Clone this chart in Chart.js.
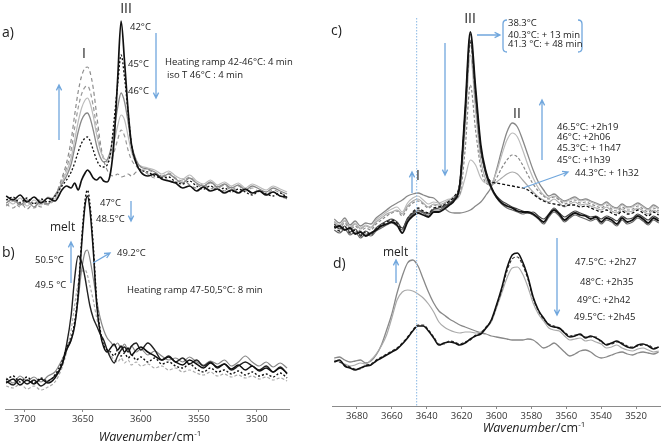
<!DOCTYPE html>
<html><head><meta charset="utf-8">
<script src="https://cdn.jsdelivr.net/npm/chart.js@4.4.1/dist/chart.umd.min.js"></script>
<style>
html,body{margin:0;padding:0;background:#fff;}
#wrap{position:relative;width:661px;height:445px;overflow:hidden;font-family:'Open Sans',sans-serif;color:#222;}
canvas{position:absolute;}
.t{position:absolute;white-space:nowrap;font-size:9.5px;line-height:1;transform:translateY(-50%);}
.c{transform:translate(-50%,-50%);}
.big{font-size:14px;}
.mid{font-size:12px;}
.ax{font-size:12.5px;}
.ax i{font-style:italic;}
.ax sup{font-size:8px;vertical-align:5px;line-height:0;}
#ann{position:absolute;left:0;top:0;}
</style></head><body>
<div id="wrap">
<canvas id="ca" width="285" height="200" style="left:5px;top:15px"></canvas>
<canvas id="cb" width="285" height="250" style="left:5px;top:180px"></canvas>
<canvas id="cc" width="329" height="235" style="left:332px;top:15px"></canvas>
<canvas id="cd" width="329" height="182" style="left:332px;top:245px"></canvas>
<svg id="ann" width="661" height="445"></svg>

<div class="t big" style="left:2px;top:32px">a)</div>
<div class="t big c" style="left:126px;top:8px">III</div>
<div class="t big c" style="left:84px;top:53px">I</div>
<div class="t" style="left:130px;top:27px">42°C</div>
<div class="t" style="left:128px;top:64px">45°C</div>
<div class="t" style="left:128px;top:91px">46°C</div>
<div class="t" style="left:165px;top:62px">Heating ramp 42-46°C: 4 min</div>
<div class="t" style="left:167px;top:75px">iso T 46°C : 4 min</div>
<div class="t" style="left:100px;top:203px">47°C</div>
<div class="t" style="left:96px;top:219px">48.5°C</div>
<div class="t mid" style="left:50px;top:227px">melt</div>
<div class="t big" style="left:2px;top:252px">b)</div>
<div class="t" style="left:35px;top:260px">50.5°C</div>
<div class="t" style="left:35px;top:285px">49.5 °C</div>
<div class="t" style="left:117px;top:253px">49.2°C</div>
<div class="t" style="left:127px;top:290px">Heating ramp 47-50,5°C: 8 min</div>
<div class="t ax c" style="left:150px;top:437px"><i>Wavenumber</i>/cm<sup>-1</sup></div>

<div class="t big" style="left:331px;top:30px">c)</div>
<div class="t big c" style="left:470px;top:18px">III</div>
<div class="t" style="left:508px;top:23px">38.3°C</div>
<div class="t" style="left:508px;top:35px">40.3°C: + 13 min</div>
<div class="t" style="left:508px;top:44px">41.3 °C: + 48 min</div>
<div class="t big c" style="left:418px;top:175px">I</div>
<div class="t big c" style="left:517px;top:113px">II</div>
<div class="t" style="left:557px;top:127px">46.5°C: +2h19</div>
<div class="t" style="left:557px;top:137px">46°C: +2h06</div>
<div class="t" style="left:557px;top:148px">45.3°C: + 1h47</div>
<div class="t" style="left:557px;top:160px">45°C: +1h39</div>
<div class="t" style="left:575px;top:173px">44.3°C: + 1h32</div>
<div class="t mid" style="left:383px;top:252px">melt</div>
<div class="t big" style="left:333px;top:263px">d)</div>
<div class="t" style="left:575px;top:262px">47.5°C: +2h27</div>
<div class="t" style="left:580px;top:282px">48°C: +2h35</div>
<div class="t" style="left:577px;top:300px">49°C: +2h42</div>
<div class="t" style="left:574px;top:317px">49.5°C: +2h45</div>
<div class="t ax c" style="left:534px;top:428px"><i>Wavenumber</i>/cm<sup>-1</sup></div>
</div>
<script>
// ---------- DATA ----------
// Left column (panels a, b): wavenumbers (cm-1)
const wavenumbersLeft = [3716,3710,3704,3698,3692,3686,3680,3674,3668,3664,3660,3657,3654,3651,3648,3646,3644,3641,3638,3635,3632,3629,3626,3623,3620,3617,3614,3611,3608,3604,3600,3594,3588,3582,3576,3570,3564,3558,3552,3546,3540,3534,3528,3522,3516,3510,3504,3498,3492,3486,3480,3474];
// Panel a (absorbance, arbitrary units)
const a_42C   = [19,15,20,13,18,12,17,14,25,29,27,32,25,35,42,45,43,37,35,38,34,33,43,75,135,194,153,105,70,52,43,39,41,36,34,32,27,29,24,28,24,26,22,25,22,26,22,24,20,23,19,18];
const a_45C   = [15,18,12,17,11,16,13,19,29,35,43,52,63,72,77,78,75,65,55,49,48,50,63,95,130,160,137,103,70,52,45,43,39,37,38,33,31,34,29,26,29,25,27,23,26,23,20,24,21,19,22,17];
const a_46C   = [12,16,10,15,8,14,11,20,31,39,51,67,83,95,101,102,98,85,69,58,53,55,65,85,107,122,113,93,70,55,48,46,43,38,41,36,32,37,32,29,33,28,31,27,30,25,29,26,23,27,24,21];
const a_iso1  = [16,11,17,9,15,10,18,16,33,43,57,75,93,107,115,117,113,99,80,65,57,55,60,73,89,100,95,79,63,52,49,47,45,41,44,39,36,40,34,31,35,30,33,29,32,27,31,28,25,29,26,23];
const a_iso2  = [9,14,8,13,7,12,10,17,35,47,65,87,107,121,128,129,125,109,87,68,57,53,55,63,75,85,79,65,55,49,45,45,42,39,42,37,34,38,31,28,32,27,30,25,29,24,27,23,21,25,22,19];
const a_iso3  = [11,7,13,6,12,8,15,19,37,52,75,100,123,139,147,148,144,127,100,73,55,45,40,39,41,38,39,41,39,43,45,41,37,40,35,32,36,30,27,31,26,29,24,28,23,26,22,25,20,23,19,16];
// Panel b
const b_47C   = [29,33,27,32,26,31,28,34,47,61,71,87,117,169,209,219,207,164,109,79,64,59,57,53,59,53,56,51,54,49,52,47,51,45,47,43,41,45,40,37,41,37,39,35,38,34,37,33,35,32,36,31];
const b_48_5C = [26,30,24,29,25,30,26,31,44,59,69,83,113,164,204,213,201,159,104,76,62,57,61,65,59,63,57,61,54,59,62,57,53,49,52,47,44,49,45,41,46,42,45,40,44,39,43,38,41,37,41,36];
const b_49_2C = [31,26,33,28,32,27,33,37,49,59,69,84,109,139,157,159,151,131,109,91,79,71,67,63,66,61,65,59,63,57,60,54,58,53,49,51,47,52,47,44,48,45,49,43,47,53,47,43,47,42,46,41];
const b_49_5C = [23,21,25,20,23,19,22,27,41,57,79,104,126,137,139,134,124,109,91,77,67,59,54,49,47,51,46,49,44,47,43,45,41,43,39,41,37,39,36,34,37,33,35,32,34,31,33,30,32,29,31,28];
const b_50_5C = [28,24,30,25,29,23,28,33,44,64,94,131,153,147,131,117,104,91,83,75,69,59,51,46,53,59,62,57,63,66,59,66,59,49,53,47,51,45,49,43,47,41,45,39,43,47,43,39,43,37,42,35];

// Right column (panels c, d): wavenumbers (cm-1)
const wavenumbersRight = [3693,3690,3687,3684,3681,3678,3675,3672,3669,3666,3663,3660,3657,3654,3651,3648,3645,3642,3639,3636,3633,3630,3627,3624,3621,3618,3615,3612,3609,3606,3603,3600,3597,3594,3591,3588,3585,3582,3579,3576,3573,3570,3567,3564,3561,3558,3555,3552,3549,3546,3543,3540,3537,3534,3531,3528,3525,3522,3519,3516,3513,3510,3507];
// Panel c
const c_38_3C = [22,24,20,22,16,18,14,17,20,24,26,28,25,17,28,34,37,35,33,38,38,41,45,50,65,140,218,162,105,78,63,53,47,44,42,39,38,38,36,32,28,35,40,36,30,34,37,35,34,31,33,28,32,30,26,32,28,30,34,31,27,32,29];
const c_40_3C = [26,21,24,18,21,15,19,16,22,26,29,31,28,22,32,37,40,38,36,41,42,44,47,52,67,138,216,158,102,76,62,54,49,46,43,41,39,37,38,34,31,36,42,37,33,36,39,37,35,33,34,31,34,32,29,34,31,32,36,33,30,34,31];
const c_41_3C = [20,17,21,15,18,12,16,14,19,22,25,27,24,20,30,36,39,37,34,40,40,43,46,51,66,132,210,152,100,75,61,52,46,42,40,38,36,37,35,31,26,33,38,34,28,32,35,33,31,29,31,26,30,28,24,30,26,28,32,29,25,30,27];
const c_44_3C = [24,19,23,17,20,14,18,15,21,25,28,30,27,21,31,38,42,39,37,42,43,45,49,54,68,135,208,155,100,77,68,67,66,65,64,63,62,60,56,52,49,47,46,45,44,45,45,43,44,42,40,38,40,37,35,39,36,37,40,37,34,38,35];
const c_45C   = [28,24,29,22,26,21,24,22,28,32,36,38,40,36,44,49,51,47,43,46,45,47,50,54,60,120,195,140,90,70,65,68,72,76,78,76,70,64,58,53,50,48,51,47,43,46,48,45,46,44,42,40,43,39,37,41,38,39,42,39,36,40,37];
const c_45_3C = [26,22,27,20,24,19,22,20,26,30,34,37,39,34,42,47,49,46,42,45,44,46,49,52,56,100,165,120,82,67,65,72,82,90,95,93,85,75,66,59,54,51,53,50,46,48,50,47,48,46,44,42,45,41,39,43,40,41,44,41,38,42,39];
const c_46C   = [29,25,30,23,27,22,25,23,30,34,38,41,43,38,47,52,54,50,46,48,47,49,51,50,55,72,90,85,72,67,67,78,95,110,117,113,100,85,72,62,55,52,54,51,48,50,52,49,50,48,46,44,47,43,41,45,42,43,46,43,40,44,41];
const c_46_5C = [31,27,32,25,29,24,27,26,32,36,40,44,47,50,54,56,57,55,53,52,47,42,38,37,37,38,40,44,48,55,63,80,100,118,127,123,110,95,80,68,60,54,56,52,49,51,53,50,51,49,47,45,48,44,42,46,43,44,47,44,41,45,42];
// Panel d
const d_47_5C = [44,46,40,38,36,38,40,41,45,48,51,54,57,62,68,75,80,80,75,68,61,63,64,63,61,63,67,70,72,78,86,101,118,138,151,153,144,129,109,96,88,81,79,78,73,69,70,72,68,70,68,65,61,63,65,62,59,58,61,62,60,57,59];
const d_48C   = [45,44,41,39,37,37,41,42,46,49,52,55,58,63,69,76,81,81,76,69,62,62,65,64,62,64,66,71,73,79,85,100,116,135,147,149,141,127,108,95,87,82,80,77,74,70,71,71,69,69,69,64,62,62,64,63,60,59,60,61,61,58,58];
const d_49C   = [46,44,42,40,41,43,42,46,52,60,71,88,106,114,116,115,112,108,102,94,84,79,76,74,73,74,74,73,74,78,84,98,113,128,138,139,132,119,103,92,85,78,76,75,70,66,67,68,65,66,64,62,58,59,61,58,56,55,57,58,56,54,55];
const d_49_5C = [48,49,46,44,45,46,43,45,51,61,76,92,113,130,143,146,140,127,114,103,95,91,87,84,81,79,77,75,73,72,70,69,68,67,66,66,66,67,66,62,58,60,63,59,54,50,52,55,56,54,50,48,49,51,53,54,52,51,53,54,53,52,54];

const leftTicks = [3700,3650,3600,3550,3500];
const rightTicks = [3680,3660,3640,3620,3600,3580,3560,3540,3520];
const markerWavenumber = 3645.8;

// ---------- CHARTS ----------
const leftRange = {min: 3471.5, max: 3717};
const rightRange = {min: 3505.7, max: 3694.3};

function ds(xs, ys, color, width, dash){
  return {data: xs.map((x,i)=>({x:x, y:ys[i]})), borderColor: color, borderWidth: width,
    borderDash: dash || [], pointRadius: 0, fill: false, cubicInterpolationMode: 'monotone', clip: false};
}
const markerPlugin = {
  id: 'marker',
  afterDatasetsDraw(chart, args, o){
    if(!o || o.value == null) return;
    const x = chart.scales.x.getPixelForValue(o.value);
    const ctx = chart.ctx;
    ctx.save();
    ctx.strokeStyle = o.color; ctx.lineWidth = 1.2; ctx.setLineDash([1.5,1.5]);
    ctx.beginPath(); ctx.moveTo(x, chart.chartArea.top + (o.top||0)); ctx.lineTo(x, chart.chartArea.bottom); ctx.stroke();
    ctx.restore();
  }
};
function makeChart(id, datasets, range, yMax, showAxis, tickList, marker){
  const xScale = {type: 'linear', reverse: true, min: range.min, max: range.max, display: showAxis,
    border: {display: true, color: '#8a8a8a', width: 1},
    grid: {drawOnChartArea: false, drawTicks: true, tickLength: 3, color: '#8a8a8a'},
    ticks: {color: '#333', font: {family: "'Open Sans', sans-serif", size: 9.5}, padding: 2, maxRotation: 0, autoSkip: false, includeBounds: false,
      callback: (v) => String(v)},
    afterBuildTicks(scale){ scale.ticks = tickList.map(v=>({value: v})); }
  };
  if (showAxis) xScale.afterFit = (scale) => { scale.height = 21; };
  return new Chart(document.getElementById(id), {
    type: 'line',
    data: {datasets: datasets},
    options: {
      responsive: false, animation: false, devicePixelRatio: 1,
      layout: {padding: 0},
      plugins: {legend: {display: false}, tooltip: {enabled: false}, marker: marker || {}},
      scales: {x: xScale, y: {display: false, min: 0, max: yMax}}
    },
    plugins: [markerPlugin]
  });
}

const L = wavenumbersLeft, R = wavenumbersRight;
makeChart('ca', [
  ds(L, a_42C, '#111', 1.7),
  ds(L, a_45C, '#111', 1.3, [2,2]),
  ds(L, a_46C, '#888', 1.3),
  ds(L, a_iso1, '#bbb', 1.2),
  ds(L, a_iso2, '#999', 1.2, [4,3]),
  ds(L, a_iso3, '#8c8c8c', 1.2, [4,3])
], leftRange, 200, false, leftTicks);

makeChart('cb', [
  ds(L, b_47C, '#111', 1.4, [2,2]),
  ds(L, b_48_5C, '#111', 1.5),
  ds(L, b_50_5C, '#222', 1.4),
  ds(L, b_49_2C, '#888', 1.2),
  ds(L, b_49_5C, '#aaa', 1.2, [3,2])
], leftRange, 229, true, leftTicks);

makeChart('cc', [
  ds(R, c_38_3C, '#111', 1.8),
  ds(R, c_40_3C, '#444', 1.2),
  ds(R, c_41_3C, '#666', 1.2),
  ds(R, c_44_3C, '#111', 1.3, [3,2]),
  ds(R, c_45C, '#aaa', 1.2),
  ds(R, c_45_3C, '#888', 1.2, [3,2]),
  ds(R, c_46C, '#bbb', 1.2),
  ds(R, c_46_5C, '#888', 1.3)
], rightRange, 235, false, rightTicks, {value: markerWavenumber, color: '#9cc3e8', top: 3});

makeChart('cd', [
  ds(R, d_47_5C, '#111', 1.6),
  ds(R, d_48C, '#333', 1.2, [3,2]),
  ds(R, d_49C, '#aaa', 1.2),
  ds(R, d_49_5C, '#888', 1.3)
], rightRange, 161, true, rightTicks, {value: markerWavenumber, color: '#9cc3e8', top: 0});

// ---------- ANNOTATION ARROWS ----------
const arrows = [
  [59,140,59,85],[156,33,156,98],[131,201,131,221],[71,283,71,242],[93,263,110,253],
  [477,35,500,35],[445,43,445,175],[412,193,412,172],[542,160,542,100],[523,188,568,172],
  [396,283,396,260],[557,238,557,315]
];
const svg = document.getElementById('ann');
const NS = 'http://www.w3.org/2000/svg';
let path = '';
arrows.forEach(([x1,y1,x2,y2])=>{
  const a = Math.atan2(y2-y1, x2-x1), h = 6, s = 0.45;
  path += `M${x1},${y1}L${x2},${y2}`;
  path += `M${x2-h*Math.cos(a-s)},${y2-h*Math.sin(a-s)}L${x2},${y2}L${x2-h*Math.cos(a+s)},${y2-h*Math.sin(a+s)}`;
});
// brackets around the 38.3 / 40.3 / 41.3 legend
path += 'M507,20Q503,20 503,24L503,48Q503,52 507,52M578,20Q582,20 582,24L582,48Q582,52 578,52';
const p = document.createElementNS(NS,'path');
p.setAttribute('d', path); p.setAttribute('fill','none'); p.setAttribute('stroke','#71a7dd'); p.setAttribute('stroke-width','1.3');
svg.appendChild(p);
</script>
</body></html>
